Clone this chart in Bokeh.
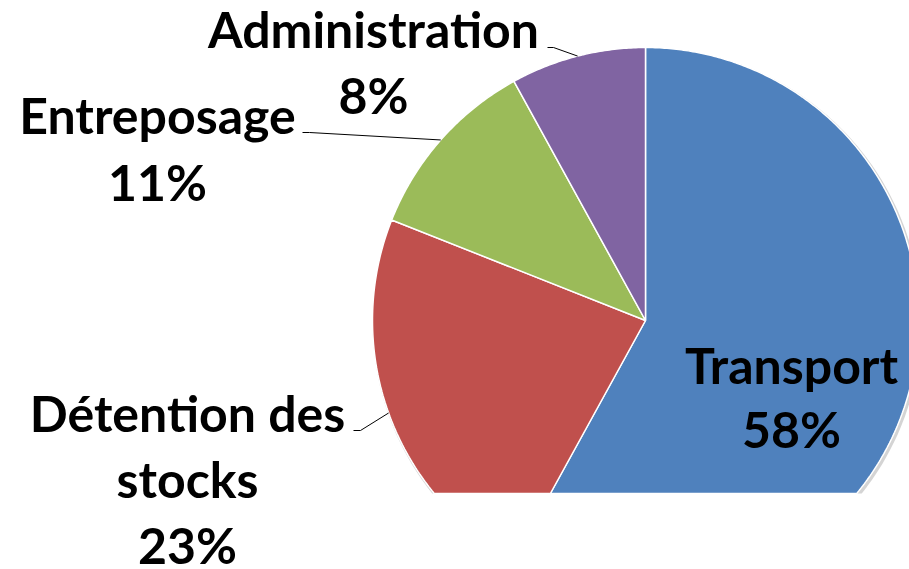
import math
from bokeh.plotting import figure
from bokeh.models import Range1d, ColumnDataSource
from bokeh.core.properties import value
from bokeh.embed import file_html
from bokeh.resources import INLINE

# ---- data ----
categories = ["Transport", "Détention des stocks", "Entreposage", "Administration"]
shares = [58, 23, 11, 8]
colors = ["#4F81BD", "#C0504D", "#9BBB59", "#8064A2"]

# ---- layout (picture pixel coordinates) ----
W, H = 909, 569
CX, CY, R = 645.0, 320.0, 273.0
CLIP_Y = 493.0
FONT = "Lato"
FSIZE = "50px"
TEXT_SHIFT = -19  # renderer draws the text lower than the requested baseline

p = figure(width=W, height=H, output_backend="svg", toolbar_location=None,
           x_range=Range1d(0, W), y_range=Range1d(H, 0),
           min_border=0, outline_line_color=None, background_fill_color="white",
           border_fill_color="white")
p.axis.visible = False
p.grid.visible = False


def pt(theta_deg, r=R, cx=CX, cy=CY):
    t = math.radians(theta_deg)
    return (cx + r * math.sin(t), cy - r * math.cos(t))


def clip_poly(poly, ymax):
    out = []
    n = len(poly)
    for i in range(n):
        cur = poly[i]
        prev = poly[i - 1]
        cin = cur[1] <= ymax
        pin = prev[1] <= ymax
        if cin != pin:
            t = (ymax - prev[1]) / (cur[1] - prev[1])
            out.append((prev[0] + t * (cur[0] - prev[0]), ymax))
        if cin:
            out.append(cur)
    return out


total = float(sum(shares))
angles = []
acc = 0.0
for v in shares:
    a0 = acc / total * 360.0
    acc += v
    a1 = acc / total * 360.0
    angles.append((a0, a1))

# shadow
shadow = [pt(a, R + 1.5, CX + 1.5, CY + 2.0) for a in [i * 1.0 for i in range(361)]]
shadow = clip_poly(shadow, CLIP_Y)
p.patch([q[0] for q in shadow], [q[1] for q in shadow], fill_color="#d4d4d4",
        line_color=None)

xs, ys = [], []
for (a0, a1) in angles:
    n = max(int((a1 - a0) * 2), 4)
    poly = [(CX, CY)] + [pt(a0 + (a1 - a0) * k / n) for k in range(n + 1)]
    poly = clip_poly(poly, CLIP_Y)
    xs.append([q[0] for q in poly])
    ys.append([q[1] for q in poly])

src = ColumnDataSource(dict(xs=xs, ys=ys, color=colors, cat=categories))
p.patches("xs", "ys", source=src, fill_color="color", line_color="white",
          line_width=1.5)

# ---- labels ----
# (lines of label text, x centre, baselines)
label_layout = {
    "Transport": (["Transport"], 791, [383, 447]),
    "Détention des stocks": (["Détention des", "stocks"], 187, [431, 497, 563]),
    "Entreposage": (["Entreposage"], 157, [133, 200]),
    "Administration": (["Administration"], 373, [47, 113]),
}
tx, ty, tt = [], [], []
for cat, v in zip(categories, shares):
    lines, x, bases = label_layout[cat]
    texts = lines + [f"{v}%"]
    for s, b in zip(texts, bases):
        tx.append(x)
        ty.append(b + TEXT_SHIFT)
        tt.append(s)
p.text(x=tx, y=ty, text=tt, text_align="center", text_baseline="alphabetic",
       text_font=value(FONT), text_font_style="bold", text_font_size=FSIZE,
       text_color="black")

# ---- leader lines (label side fixed, slice side at mid angle of slice) ----
leader_start = {
    "Administration": [(547, 47), (553, 47)],
    "Entreposage": [(302, 132), (309, 132)],
    "Détention des stocks": [(353, 430), (360, 430)],
}
for cat, (a0, a1) in zip(categories, angles):
    if cat in leader_start:
        pts = leader_start[cat] + [pt((a0 + a1) / 2.0)]
        p.line([q[0] for q in pts], [q[1] for q in pts], line_color="black",
               line_width=1)

open("out.html", "w").write(file_html(p, INLINE))
